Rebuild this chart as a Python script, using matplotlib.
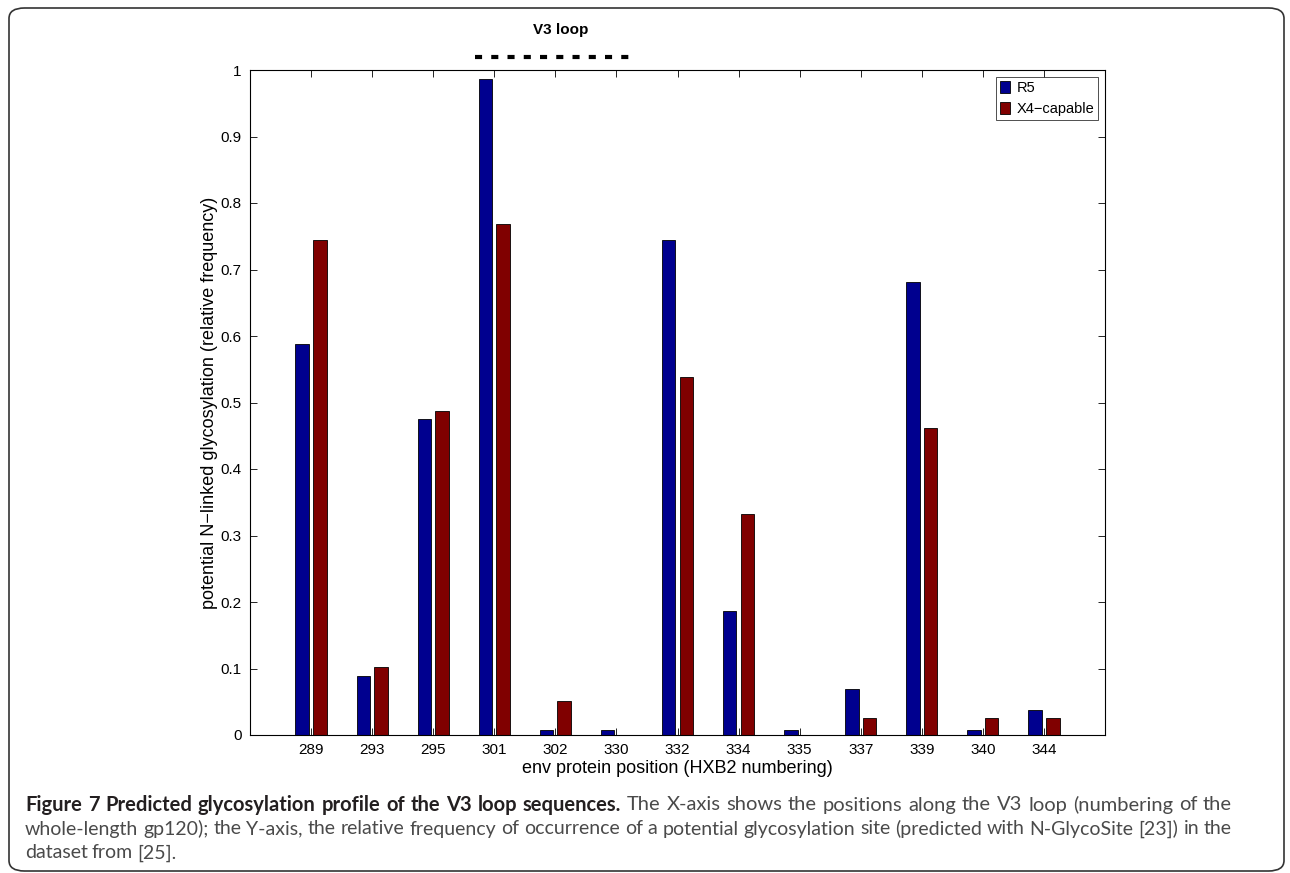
import matplotlib
matplotlib.use('Agg')
import matplotlib.pyplot as plt
import numpy as np
from matplotlib.patches import FancyBboxPatch

pozycje = ['289', '293', '295', '301', '302', '330', '332', '334', '335', '337', '339', '340', '344']
r5 = [0.588, 0.088, 0.475, 0.987, 0.007, 0.007, 0.744, 0.187, 0.007, 0.069, 0.681, 0.007, 0.038]
x4 = [0.744, 0.103, 0.487, 0.769, 0.051, 0.0, 0.538, 0.333, 0.0, 0.026, 0.462, 0.026, 0.026]
serie = ['R5', 'X4\u2212capable']
yticki = [0, 0.1, 0.2, 0.3, 0.4, 0.5, 0.6, 0.7, 0.8, 0.9, 1]

plt.rcParams['font.family'] = ['Liberation Sans', 'DejaVu Sans']

okno = plt.figure(figsize=(12.9, 8.73), dpi=100)
ax = okno.add_axes([250/1290, 1-735/873, 855/1290, 665/873])

x = np.arange(1, len(pozycje)+1)
w = 0.22
ax.bar(x-0.145, r5, w, color='#00008f', edgecolor='black', linewidth=0.6, label=serie[0])
ax.bar(x+0.145, x4, w, color='#800000', edgecolor='black', linewidth=0.6, label=serie[1])

ax.set_xlim(0, 14)
ax.set_ylim(0, 1)
ax.set_xticks(x)
ax.set_xticklabels(pozycje, fontsize=11)
ax.set_yticks(yticki)
ax.set_yticklabels([('%g' % v) for v in yticki], fontsize=11)
ax.tick_params(direction='in', top=True, right=True, length=5, width=0.6, pad=6)
for s in ax.spines.values():
    s.set_linewidth(0.8)

ax.set_xlabel('env protein position (HXB2 numbering)', fontsize=13, labelpad=2)
ax.set_ylabel('potential N\u2212linked glycosylation (relative frequency)', fontsize=13, labelpad=2)

leg = ax.legend(loc='upper right', fontsize=10.5, frameon=True, fancybox=False,
                edgecolor='black', handlelength=0.7, handleheight=0.9, handletextpad=0.4,
                borderpad=0.3, labelspacing=0.45, borderaxespad=0.45)
leg.get_frame().set_linewidth(0.6)

# V3 loop
ax.plot([3.68, 6.22], [1.02, 1.02], color='black', linestyle=(0, (1.7, 2.2)),
        linewidth=3, clip_on=False)
ax.text(5.08, 1.06, 'V3 loop', fontsize=11, fontweight='bold', ha='center',
        va='center', clip_on=False)

# ramka
ramka = FancyBboxPatch((9/1290, 1-871/873), 1275/1290, 863/873,
                       boxstyle='round,pad=0,rounding_size=0.012',
                       transform=okno.transFigure, fill=False,
                       edgecolor='#333333', linewidth=1.2)
okno.patches.append(ramka)

# podpis - wyjustowany
rodz = ['Lato', 'DejaVu Sans']
szary = '#4a4a4a'
okno.canvas.draw()
r = okno.canvas.get_renderer()

def linia(slowa, y, rozm, x0=25, x1=1232, justuj=True):
    # slowa: lista (tekst, pogrubienie, kolor)
    teksty = []
    for s, b, k in slowa:
        t = okno.text(0, 1-y/873, s, fontsize=rozm, fontweight='bold' if b else 'normal',
                      color=k, family=rodz, va='center')
        teksty.append(t)
    szer = [t.get_window_extent(renderer=r).width for t in teksty]
    if justuj and len(teksty) > 1:
        odst = (x1 - x0 - sum(szer)) / (len(teksty) - 1)
    else:
        odst = 4.0
    px = x0
    for t, sz in zip(teksty, szer):
        t.set_x(px/1290)
        px += sz + odst

pogr = 'Figure 7 Predicted glycosylation profile of the V3 loop sequences.'.split()
reszta1 = 'The X-axis shows the positions along the V3 loop (numbering of the'.split()
linia2 = 'whole-length gp120); the Y-axis, the relative frequency of occurrence of a potential glycosylation site (predicted with N-GlycoSite [23]) in the'.split()
linia3 = 'dataset from [25].'.split()

linia([(s, True, '#231f20') for s in pogr] + [(s, False, szary) for s in reszta1], 805, 14.5)
linia([(s, False, szary) for s in linia2], 829, 14.0)
linia([(s, False, szary) for s in linia3], 853, 14.0, justuj=False)

plt.savefig('out.png', dpi=100)
